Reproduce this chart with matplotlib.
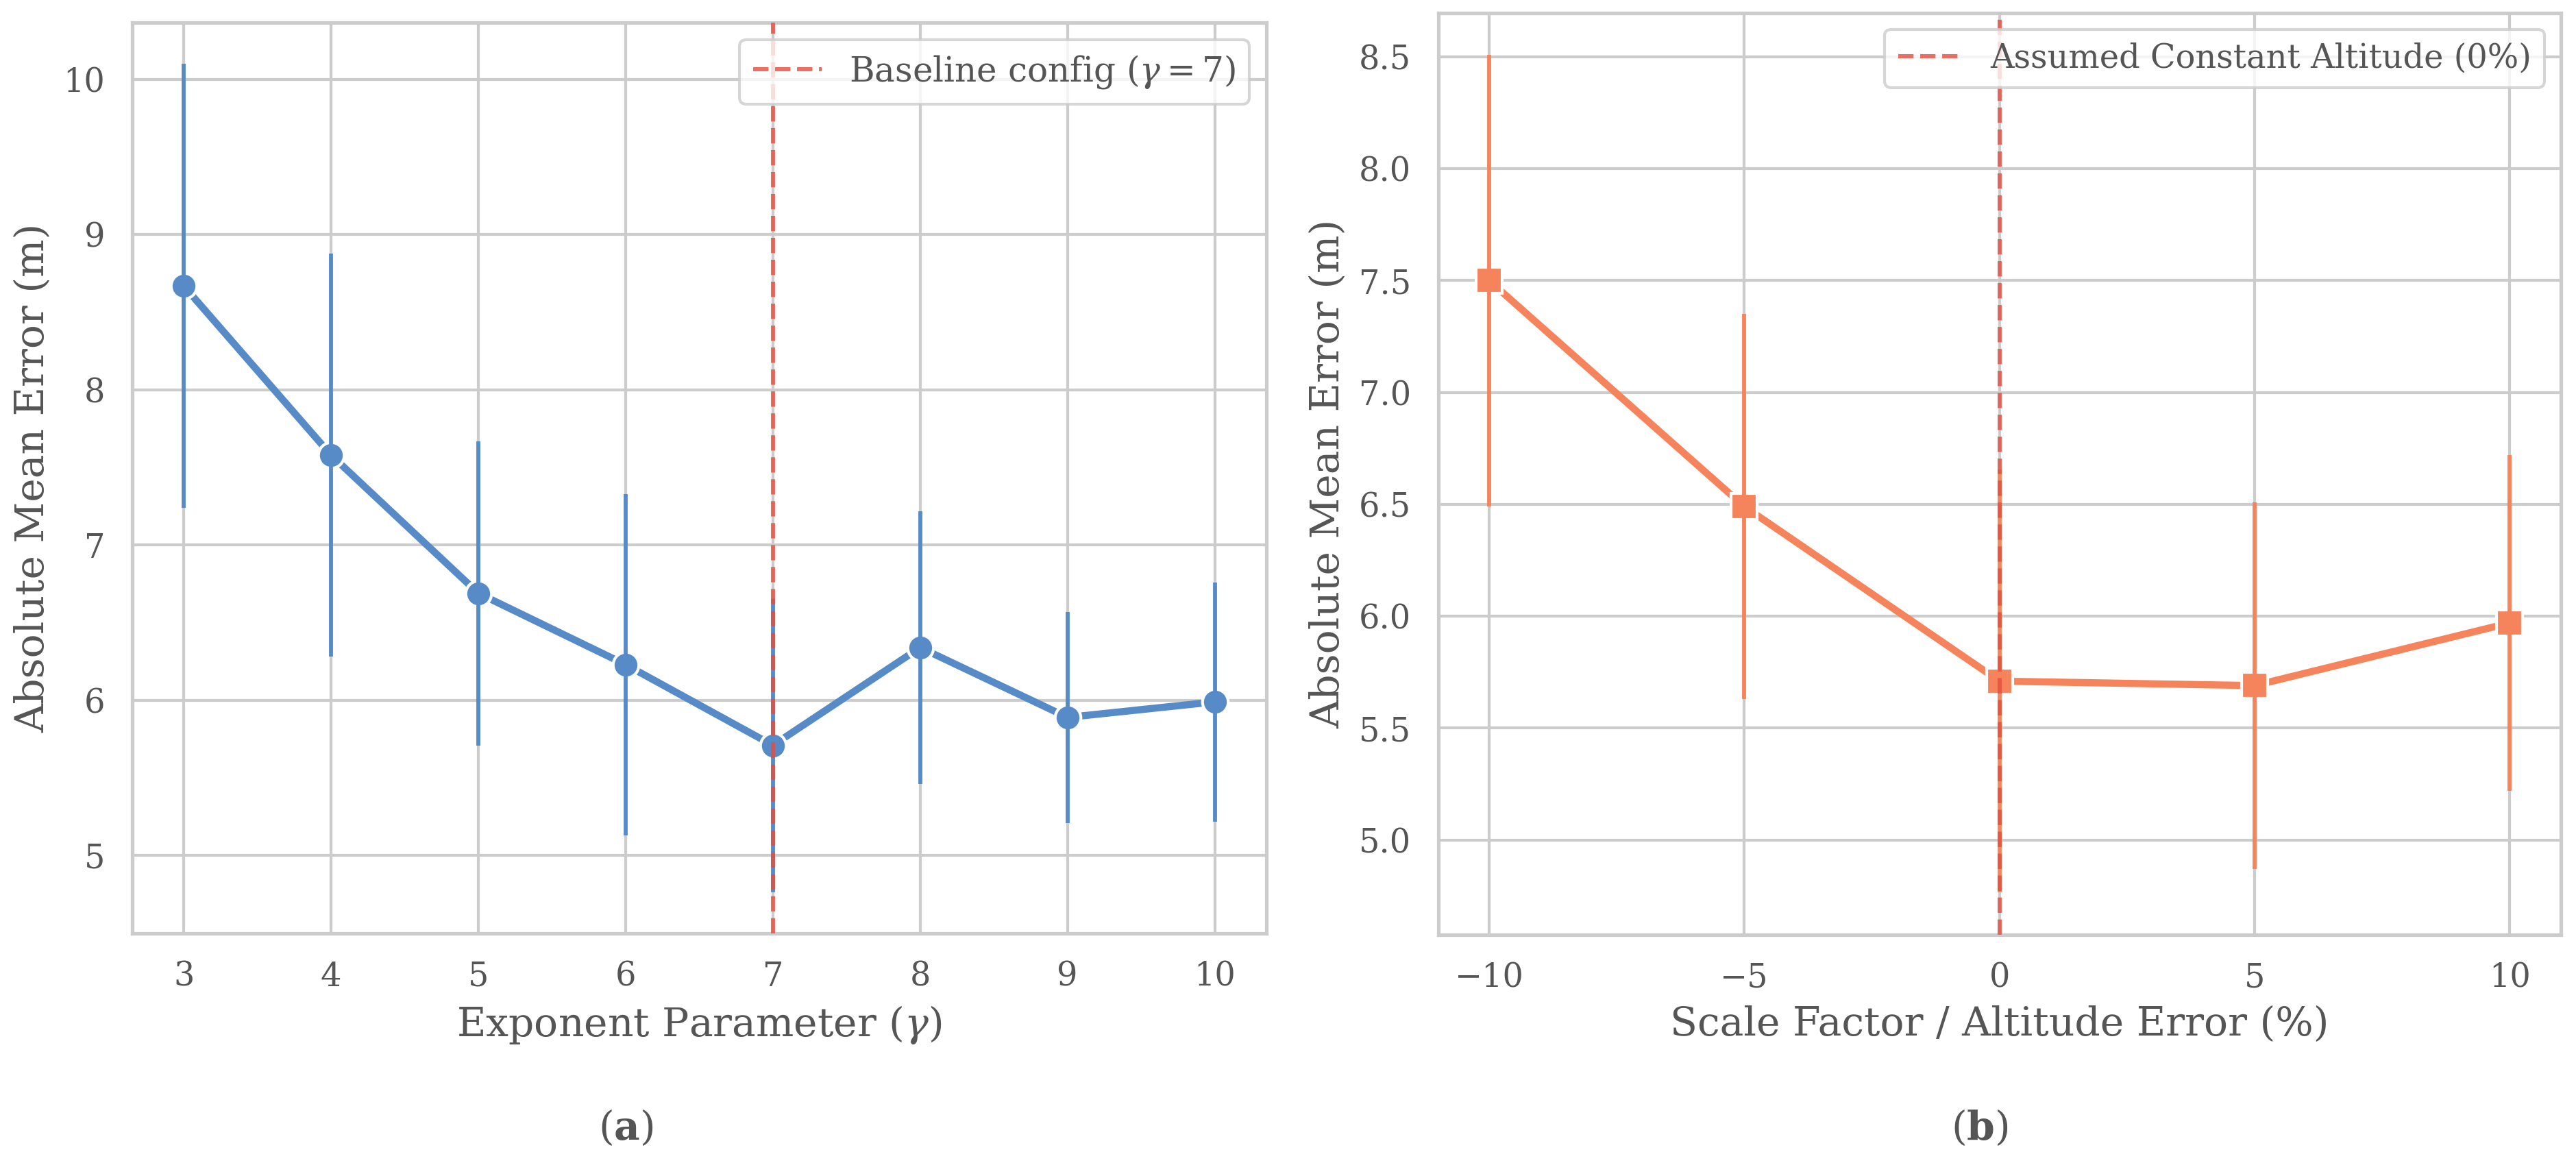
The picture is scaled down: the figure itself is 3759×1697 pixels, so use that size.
import matplotlib
matplotlib.use("Agg")
import matplotlib.pyplot as plt
import seaborn as sns

# data
gamma = [3, 4, 5, 6, 7, 8, 9, 10]
gamma_mae = [8.67, 7.58, 6.69, 6.23, 5.71, 6.34, 5.89, 5.99]
gamma_err = [1.43, 1.30, 0.98, 1.10, 0.945, 0.88, 0.68, 0.77]

scale = [-10, -5, 0, 5, 10]
scale_mae = [7.50, 6.49, 5.71, 5.69, 5.97]
scale_err = [1.01, 0.86, 0.945, 0.82, 0.75]

baseline_gamma = 7
baseline_scale = 0

sns.set_theme(style="whitegrid")
plt.rcParams['font.family'] = ['DejaVu Serif']
plt.rcParams['mathtext.fontset'] = 'dejavuserif'
text_col = '#555555'
plt.rcParams['text.color'] = text_col
plt.rcParams['axes.labelcolor'] = text_col
plt.rcParams['xtick.color'] = text_col
plt.rcParams['ytick.color'] = text_col

blue = '#568BC8'
orange = '#F5845C'
vline_col = '#E74C3C'

fig = plt.figure(figsize=(12.53, 5.657), dpi=300)
ax1 = fig.add_axes([0.0513, 0.1974, 0.4403, 0.7832])
ax2 = fig.add_axes([0.5583, 0.1965, 0.4358, 0.7925])

# (a) exponent parameter
ax1.plot(gamma, gamma_mae, color=blue, lw=2.5, marker='o', markersize=9,
         markeredgecolor='white', markeredgewidth=1.0, zorder=3)
ax1.errorbar(gamma, gamma_mae, yerr=gamma_err, fmt='none', ecolor=blue,
             elinewidth=1.4, capsize=0, zorder=4)
ax1.axvline(baseline_gamma, color=vline_col, ls='--', lw=1.45, alpha=0.8,
            zorder=5, label=r'Baseline config ($\gamma = 7$)')
ax1.set_xticks(gamma)
ax1.set_xlabel(r'Exponent Parameter ($\gamma$)', fontsize=14)
ax1.set_ylabel('Absolute Mean Error (m)', fontsize=14)
ax1.legend(loc='upper right', fontsize=12)

# (b) scale factor / altitude error
ax2.plot(scale, scale_mae, color=orange, lw=2.5, marker='s', markersize=9,
         markeredgecolor='white', markeredgewidth=1.0, zorder=3)
ax2.errorbar(scale, scale_mae, yerr=scale_err, fmt='none', ecolor=orange,
             elinewidth=1.4, capsize=0, zorder=4)
ax2.axvline(baseline_scale, color=vline_col, ls='--', lw=1.45, alpha=0.8,
            zorder=5, label='Assumed Constant Altitude (0%)')
ax2.set_xticks([-10, -5, 0, 5, 10])
ax2.set_xlabel('Scale Factor / Altitude Error (%)', fontsize=14)
ax2.set_ylabel('Absolute Mean Error (m)', fontsize=14)
ax2.legend(loc='upper right', fontsize=11.5)

for ax in (ax1, ax2):
    ax.tick_params(labelsize=11.5)
    for s in ax.spines.values():
        s.set_color('#cccccc')
        s.set_linewidth(1.25)

fig.text(0.243, 0.03, r'($\mathbf{a}$)', ha='center', va='center', fontsize=14)
fig.text(0.7685, 0.03, r'($\mathbf{b}$)', ha='center', va='center', fontsize=14)

fig.savefig('out.png', dpi=300)
